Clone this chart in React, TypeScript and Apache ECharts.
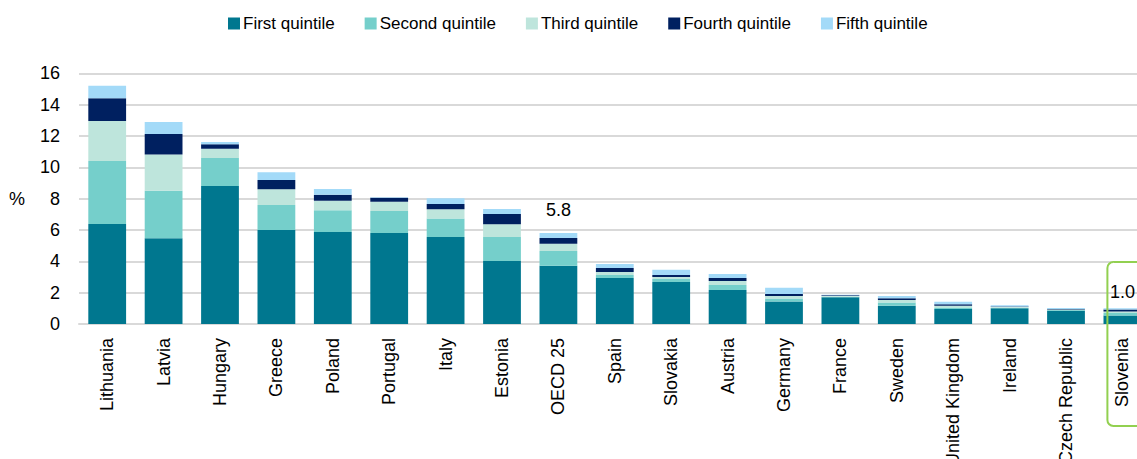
import React, { useEffect, useRef } from "react";
import * as echarts from "echarts";

const categories = [
  "Lithuania", "Latvia", "Hungary", "Greece", "Poland", "Portugal", "Italy", "Estonia",
  "OECD 25", "Spain", "Slovakia", "Austria", "Germany", "France", "Sweden",
  "United Kingdom", "Ireland", "Czech Republic", "Slovenia",
];

const firstQuintile = [6.38, 5.47, 8.81, 6.0, 5.87, 5.81, 5.55, 4.02, 3.72, 2.94, 2.68, 2.17, 1.43, 1.70, 1.17, 0.96, 1.0, 0.85, 0.55];
const secondQuintile = [4.02, 3.04, 1.78, 1.59, 1.39, 1.40, 1.19, 1.53, 0.94, 0.19, 0.19, 0.32, 0.19, 0.04, 0.21, 0.10, 0.04, 0.04, 0.15];
const thirdQuintile = [2.55, 2.30, 0.60, 1.01, 0.61, 0.60, 0.58, 0.81, 0.46, 0.19, 0.13, 0.25, 0.17, 0.04, 0.15, 0.11, 0.04, 0.04, 0.10];
const fourthQuintile = [1.45, 1.32, 0.28, 0.59, 0.38, 0.25, 0.34, 0.66, 0.37, 0.25, 0.13, 0.20, 0.12, 0.06, 0.11, 0.09, 0.04, 0.02, 0.12];
const fifthQuintile = [0.80, 0.76, 0.14, 0.49, 0.37, 0.03, 0.36, 0.32, 0.31, 0.26, 0.34, 0.25, 0.41, 0.03, 0.15, 0.16, 0.07, 0.07, 0.08];

const seriesNames = ["First quintile", "Second quintile", "Third quintile", "Fourth quintile", "Fifth quintile"];
const seriesColors = ["#00778F", "#75CFCB", "#BEE5DC", "#002060", "#A3DAF8"];

// Bars whose total is printed above the stack, with the label gap for each
const labelledBars: Record<string, number> = { "OECD 25": 14, Slovenia: 7 };

const highlighted = "Slovenia";

const FONT = "'Liberation Sans', Arial, sans-serif";

export default function App() {
  const ref = useRef<HTMLDivElement>(null);

  useEffect(() => {
    if (!ref.current) return;
    const chart = echarts.init(ref.current, null, { renderer: "svg" });

    const allSeries = [firstQuintile, secondQuintile, thirdQuintile, fourthQuintile, fifthQuintile];
    const totals = categories.map((_, i) => allSeries.reduce((s, arr) => s + arr[i], 0));

    const series = allSeries.map((arr, si) => ({
      name: seriesNames[si],
      type: "bar",
      stack: "total",
      barWidth: "67%",
      itemStyle: { color: seriesColors[si] },
      data: arr.map((v, i) => {
        const cat = categories[i];
        if (si === allSeries.length - 1 && labelledBars[cat] !== undefined) {
          return {
            value: v,
            label: {
              show: true,
              position: "top",
              distance: labelledBars[cat],
              formatter: totals[i].toFixed(1),
              fontSize: 18,
              fontFamily: FONT,
              color: "#000",
            },
          };
        }
        return v;
      }),
    }));

    chart.setOption({
      animation: false,
      textStyle: { fontFamily: FONT },
      legend: {
        data: seriesNames,
        left: 228,
        top: 15,
        padding: 0,
        icon: "rect",
        itemWidth: 12,
        itemHeight: 12,
        itemGap: 30,
        textStyle: { fontSize: 17, color: "#000", fontFamily: FONT, padding: [0, 0, 0, -2] },
      },
      grid: {
        left: 79,
        top: 73.3,
        width: 1071.6,
        height: 250.7,
        containLabel: false,
        outerBoundsMode: "none",
      },
      xAxis: {
        type: "category",
        data: categories,
        axisLine: { lineStyle: { color: "#D9D9D9", width: 2 } },
        axisTick: { show: false },
        axisLabel: {
          rotate: 90,
          interval: 0,
          margin: 14,
          fontSize: 18,
          color: "#000",
          fontFamily: FONT,
        },
      },
      yAxis: {
        type: "value",
        min: 0,
        max: 16,
        interval: 2,
        name: "%",
        nameLocation: "middle",
        nameRotate: 0,
        nameGap: 54,
        nameTextStyle: { fontSize: 18, color: "#000", fontFamily: FONT, padding: [10, 0, 0, 0] },
        axisLine: { show: false },
        axisTick: { show: false },
        splitLine: { lineStyle: { color: "#D9D9D9", width: 2 } },
        axisLabel: { fontSize: 18, color: "#000", margin: 19, fontFamily: FONT },
      },
      series,
    });

    // Rounded frame around the highlighted country and its label
    const idx = categories.indexOf(highlighted);
    const cx = chart.convertToPixel({ xAxisIndex: 0 }, idx) as number;
    const y0 = chart.convertToPixel({ yAxisIndex: 0 }, 0) as number;
    chart.setOption({
      graphic: [
        {
          type: "rect",
          shape: { x: cx - 15, y: y0 - 62, width: 60, height: 164, r: 6 },
          style: { fill: "none", stroke: "#92D050", lineWidth: 2 },
          z: 10,
        },
      ],
    });

    return () => chart.dispose();
  }, []);

  return (
    <div style={{ position: "fixed", left: 0, top: 0, width: 1137, height: 459, overflow: "hidden", background: "#fff" }}>
      <div ref={ref} style={{ width: 1160, height: 459 }} />
    </div>
  );
}
